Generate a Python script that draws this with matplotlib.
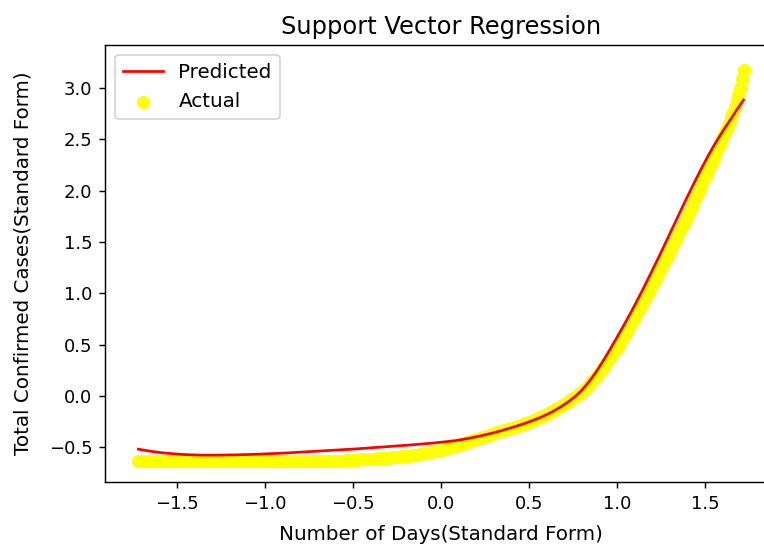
import matplotlib
matplotlib.use("Agg")
import matplotlib.pyplot as plt

# ── Data (standardised days vs standardised total confirmed cases) ────────────
days = [
    -1.72, -1.70, -1.68, -1.66, -1.64, -1.62, -1.60, -1.58, -1.56, -1.54,
    -1.52, -1.50, -1.48, -1.46, -1.44, -1.42, -1.40, -1.38, -1.36, -1.34,
    -1.32, -1.30, -1.28, -1.26, -1.24, -1.22, -1.20, -1.18, -1.16, -1.14,
    -1.12, -1.10, -1.08, -1.06, -1.04, -1.02, -1.00, -0.98, -0.96, -0.94,
    -0.92, -0.90, -0.88, -0.86, -0.84, -0.82, -0.80, -0.78, -0.76, -0.74,
    -0.72, -0.70, -0.68, -0.66, -0.64, -0.62, -0.60, -0.58, -0.56, -0.54,
    -0.52, -0.50, -0.48, -0.46, -0.44, -0.42, -0.40, -0.38, -0.36, -0.34,
    -0.32, -0.30, -0.28, -0.26, -0.24, -0.22, -0.20, -0.18, -0.16, -0.14,
    -0.12, -0.10, -0.08, -0.06, -0.04, -0.02, 0.00, 0.02, 0.04, 0.06,
    0.08, 0.10, 0.12, 0.14, 0.16, 0.18, 0.20, 0.22, 0.24, 0.26,
    0.28, 0.30, 0.32, 0.34, 0.36, 0.38, 0.40, 0.42, 0.44, 0.46,
    0.48, 0.50, 0.52, 0.54, 0.56, 0.58, 0.60, 0.62, 0.64, 0.66,
    0.68, 0.70, 0.72, 0.74, 0.76, 0.78, 0.80, 0.82, 0.84, 0.86,
    0.88, 0.90, 0.92, 0.94, 0.96, 0.98,
    1.00, 1.01, 1.02, 1.03, 1.04, 1.05, 1.06, 1.07, 1.08, 1.09,
    1.10, 1.11, 1.12, 1.13, 1.14, 1.15, 1.16, 1.17, 1.18, 1.19,
    1.20, 1.21, 1.22, 1.23, 1.24, 1.25, 1.26, 1.27, 1.28, 1.29,
    1.30, 1.31, 1.32, 1.33, 1.34, 1.35, 1.36, 1.37, 1.38, 1.39,
    1.40, 1.41, 1.42, 1.43, 1.44, 1.45, 1.46, 1.47, 1.48, 1.49,
    1.50, 1.51, 1.52, 1.53, 1.54, 1.55, 1.56, 1.57, 1.58, 1.59,
    1.60, 1.61, 1.62, 1.63, 1.64, 1.65, 1.66, 1.67, 1.68, 1.69,
    1.70, 1.71, 1.72,
]

actual_cases = [
    -0.637, -0.637, -0.637, -0.637, -0.637, -0.637, -0.637, -0.637, -0.637, -0.637,
    -0.637, -0.637, -0.637, -0.637, -0.637, -0.637, -0.637, -0.637, -0.637, -0.637,
    -0.637, -0.637, -0.637, -0.637, -0.637, -0.637, -0.637, -0.637, -0.637, -0.637,
    -0.637, -0.637, -0.637, -0.637, -0.637, -0.637, -0.636, -0.636, -0.636, -0.636,
    -0.636, -0.636, -0.636, -0.636, -0.636, -0.636, -0.635, -0.635, -0.635, -0.635,
    -0.635, -0.635, -0.635, -0.635, -0.634, -0.634, -0.633, -0.633, -0.631, -0.630,
    -0.628, -0.626, -0.622, -0.620, -0.618, -0.616, -0.614, -0.612, -0.610, -0.608,
    -0.606, -0.603, -0.600, -0.597, -0.594, -0.591, -0.587, -0.583, -0.578, -0.573,
    -0.568, -0.562, -0.556, -0.549, -0.542, -0.535, -0.527, -0.518, -0.509, -0.499,
    -0.489, -0.478, -0.467, -0.456, -0.445, -0.434, -0.422, -0.411, -0.400, -0.389,
    -0.378, -0.367, -0.357, -0.347, -0.336, -0.326, -0.315, -0.304, -0.293, -0.281,
    -0.268, -0.255, -0.241, -0.226, -0.210, -0.193, -0.175, -0.157, -0.138, -0.119,
    -0.099, -0.078, -0.056, -0.033, -0.009, 0.015, 0.040, 0.071, 0.104, 0.140,
    0.180, 0.225, 0.270, 0.318, 0.367, 0.418,
    0.470, 0.498, 0.526, 0.555, 0.584, 0.614, 0.644, 0.675, 0.706, 0.738,
    0.770, 0.800, 0.831, 0.861, 0.892, 0.923, 0.954, 0.985, 1.017, 1.048,
    1.080, 1.112, 1.144, 1.176, 1.209, 1.242, 1.275, 1.308, 1.342, 1.376,
    1.410, 1.444, 1.478, 1.512, 1.547, 1.582, 1.617, 1.652, 1.688, 1.724,
    1.760, 1.796, 1.833, 1.870, 1.907, 1.944, 1.981, 2.018, 2.055, 2.092,
    2.130, 2.167, 2.205, 2.243, 2.281, 2.319, 2.357, 2.395, 2.433, 2.471,
    2.510, 2.550, 2.592, 2.634, 2.678, 2.723, 2.770, 2.820, 2.875, 2.935,
    3.000, 3.090, 3.175,
]

pred_days = [
    -1.72, -1.68, -1.64, -1.60, -1.56, -1.52, -1.48, -1.44, -1.40, -1.36,
    -1.32, -1.28, -1.24, -1.20, -1.16, -1.12, -1.08, -1.04, -1.00, -0.96,
    -0.92, -0.88, -0.84, -0.80, -0.76, -0.72, -0.68, -0.64, -0.60, -0.56,
    -0.52, -0.48, -0.44, -0.40, -0.36, -0.32, -0.28, -0.24, -0.20, -0.16,
    -0.12, -0.08, -0.04, 0.00, 0.04, 0.08, 0.12, 0.16, 0.20, 0.24,
    0.28, 0.32, 0.36, 0.40, 0.44, 0.48, 0.52, 0.56, 0.60, 0.64,
    0.68, 0.72, 0.76, 0.80, 0.84, 0.88, 0.92, 0.96, 1.00, 1.04,
    1.08, 1.12, 1.16, 1.20, 1.24, 1.28, 1.32, 1.36, 1.40, 1.44,
    1.48, 1.52, 1.56, 1.60, 1.64, 1.68, 1.72,
]

predicted_cases = [
    -0.520, -0.532, -0.543, -0.552, -0.559, -0.565, -0.570, -0.574, -0.576, -0.578,
    -0.578, -0.578, -0.577, -0.576, -0.575, -0.573, -0.571, -0.569, -0.566, -0.563,
    -0.560, -0.557, -0.553, -0.549, -0.545, -0.541, -0.537, -0.533, -0.529, -0.525,
    -0.521, -0.517, -0.512, -0.507, -0.502, -0.497, -0.492, -0.487, -0.482, -0.477,
    -0.471, -0.465, -0.459, -0.452, -0.445, -0.437, -0.426, -0.413, -0.399, -0.384,
    -0.368, -0.350, -0.331, -0.310, -0.289, -0.266, -0.241, -0.214, -0.183, -0.148,
    -0.108, -0.062, -0.010, 0.055, 0.135, 0.228, 0.335, 0.450, 0.570, 0.690,
    0.815, 0.945, 1.080, 1.220, 1.360, 1.505, 1.650, 1.795, 1.940, 2.080,
    2.215, 2.345, 2.465, 2.575, 2.680, 2.785, 2.885,
]

# ── Plot ──────────────────────────────────────────────────────────────────────
DPI = 130
fig = plt.figure(figsize=(764 / DPI, 545 / DPI), dpi=DPI)
# right spine sits just outside the frame, as in the reference crop
ax = fig.add_axes([105 / 764, 63 / 545, 672 / 764, 437 / 545])

pts = ax.scatter(days, actual_cases, color="yellow", s=40, label="Actual")
line, = ax.plot(pred_days, predicted_cases, color="red", linewidth=1.5,
                label="Predicted")

ax.set_xlim(-1.91, 1.91)
ax.set_ylim(-0.84, 3.42)
ax.set_xticks([-1.5, -1.0, -0.5, 0.0, 0.5, 1.0, 1.5])
ax.set_yticks([-0.5, 0.0, 0.5, 1.0, 1.5, 2.0, 2.5, 3.0])
ax.spines["right"].set_visible(False)

ax.set_title("Support Vector Regression", fontsize=13.4)
ax.set_xlabel("Number of Days(Standard Form)", fontsize=11, labelpad=7)
ax.set_ylabel("Total Confirmed Cases(Standard Form)", fontsize=11, labelpad=9)
ax.tick_params(labelsize=10)
ax.legend(handles=[line, pts], loc="upper left", fontsize=11)

fig.savefig("out.png", dpi=DPI)
